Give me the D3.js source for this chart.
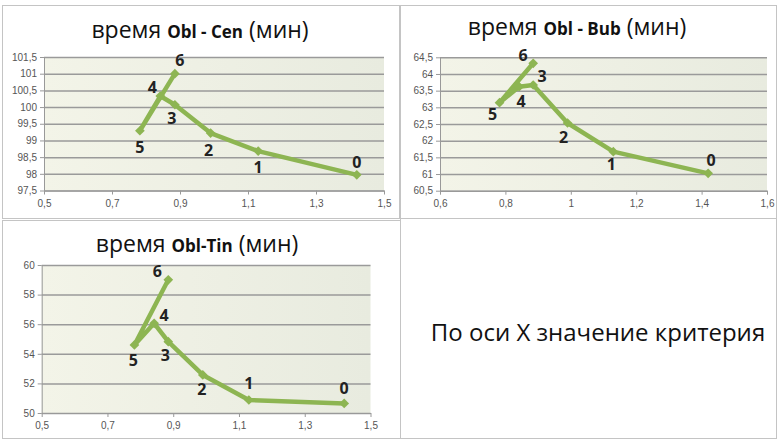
<!DOCTYPE html>
<html>
<head>
<meta charset="utf-8">
<script src="https://cdn.jsdelivr.net/npm/d3@7/dist/d3.min.js"></script>
<style>
  html, body { margin: 0; padding: 0; background: #fff; }
  svg { display: block; }
</style>
</head>
<body>
<svg id="chart" width="778" height="439"></svg>
<script>
// Criterion value (X) for the seven runs, labelled 0..6
const pointLabels = ["0", "1", "2", "3", "4", "5", "6"];
const criterion = [1.42, 1.13, 0.99, 0.885, 0.842, 0.782, 0.885];

// Travel times, minutes
const timeCen = [97.97, 98.68, 99.22, 100.07, 100.33, 99.29, 101.0];
const timeBub = [61.02, 61.67, 62.53, 63.67, 63.62, 63.14, 64.32];
const timeTin = [50.65, 50.88, 52.57, 54.82, 56.06, 54.6, 59.0];

// Axis ticks
const xTicksCen = [0.5, 0.7, 0.9, 1.1, 1.3, 1.5];
const yTicksCen = [97.5, 98, 98.5, 99, 99.5, 100, 100.5, 101, 101.5];
const xTicksBub = [0.6, 0.8, 1.0, 1.2, 1.4, 1.6];
const yTicksBub = [60.5, 61, 61.5, 62, 62.5, 63, 63.5, 64, 64.5];
const xTicksTin = [0.5, 0.7, 0.9, 1.1, 1.3, 1.5];
const yTicksTin = [50, 52, 54, 56, 58, 60];

const noteText = "По оси X значение критерия";

const svg = d3.select("#chart");
const green = "#8db552";
const fmt = v => String(+v.toFixed(2)).replace(".", ",");

// gradient fill of the plot areas
const defs = svg.append("defs");
const grad = defs.append("linearGradient").attr("id", "plotBg")
  .attr("x1", "0").attr("x2", "1").attr("y1", "0").attr("y2", "0");
grad.append("stop").attr("offset", "0").attr("stop-color", "#f3f4e8");
grad.append("stop").attr("offset", "1").attr("stop-color", "#e8ebdf");

// frames
const frames = [
  [2, 5, 397, 213],
  [400, 5, 376, 213],
  [2, 220, 398, 218],
  [400, 218, 376, 220]
];
svg.selectAll("rect.frame").data(frames).join("rect")
  .attr("class", "frame")
  .attr("x", d => d[0] + 0.5).attr("y", d => d[1] + 0.5)
  .attr("width", d => d[2]).attr("height", d => d[3])
  .attr("fill", "#fff").attr("stroke", "#c4c4c4").attr("stroke-width", 1);

// label placement (dx, dy from the marker) for each panel
const panels = [
  {
    name: "Obl - Cen", values: timeCen, xTicks: xTicksCen, yTicks: yTicksCen,
    box: { left: 44, right: 384, top: 57, bottom: 190.5 },
    titleX: 200, titleY: 38,
    offs: [[0, -13], [0, 16], [-2, 17], [-3, 14], [-8, -9], [0, 16], [5, -13]]
  },
  {
    name: "Obl - Bub", values: timeBub, xTicks: xTicksBub, yTicks: yTicksBub,
    box: { left: 440, right: 767, top: 57.3, bottom: 190.7 },
    titleX: 577, titleY: 35,
    offs: [[3, -13], [-2, 13], [-4, 14], [9, -9], [2, 15], [-7, 12], [-10, -8]]
  },
  {
    name: "Obl-Tin", values: timeTin, xTicks: xTicksTin, yTicks: yTicksTin,
    box: { left: 41.7, right: 370.5, top: 265, bottom: 413 },
    titleX: 197, titleY: 252,
    offs: [[0, -15], [0, -17], [-1, 14], [-3, 14], [10, -8], [-1, 15], [-11, -9]]
  }
];

panels.forEach(p => {
  const b = p.box;
  const x = d3.scaleLinear().domain(d3.extent(p.xTicks)).range([b.left, b.right]);
  const y = d3.scaleLinear().domain(d3.extent(p.yTicks)).range([b.bottom, b.top]);
  const g = svg.append("g");

  // title
  const t = g.append("text")
    .attr("x", p.titleX).attr("y", p.titleY)
    .attr("text-anchor", "middle")
    .attr("font-family", "'Open Sans', sans-serif")
    .attr("fill", "#111");
  t.append("tspan").attr("font-size", 23).text("время ");
  t.append("tspan").attr("font-size", 17).attr("font-weight", "bold").text(p.name);
  t.append("tspan").attr("font-size", 23).text(" (мин)");

  // plot area
  g.append("rect")
    .attr("x", b.left).attr("y", b.top)
    .attr("width", b.right - b.left).attr("height", b.bottom - b.top)
    .attr("fill", "url(#plotBg)");

  // horizontal gridlines
  g.append("g")
    .attr("transform", `translate(${b.left},0)`)
    .call(d3.axisLeft(y).tickValues(p.yTicks).tickSize(-(b.right - b.left)).tickFormat(""))
    .call(s => s.select(".domain").remove())
    .call(s => s.selectAll("line").attr("stroke", "#9a9a9a").attr("stroke-width", 1.5));

  // y axis
  const ya = g.append("g")
    .attr("transform", `translate(${b.left},0)`)
    .call(d3.axisLeft(y).tickValues(p.yTicks).tickSize(4).tickSizeOuter(0).tickPadding(3).tickFormat(fmt));
  ya.select(".domain").attr("stroke", "#999");
  ya.selectAll("line").attr("stroke", "#999");
  ya.selectAll("text").attr("fill", "#555").attr("font-size", 10)
    .attr("font-family", "'Liberation Sans', Arial, sans-serif");

  // x axis
  const xa = g.append("g")
    .attr("transform", `translate(0,${b.bottom})`)
    .call(d3.axisBottom(x).tickValues(p.xTicks).tickSize(4).tickSizeOuter(0).tickPadding(5).tickFormat(fmt));
  xa.select(".domain").attr("stroke", "#999");
  xa.selectAll("line").attr("stroke", "#999");
  xa.selectAll("text").attr("fill", "#555").attr("font-size", 10)
    .attr("font-family", "'Liberation Sans', Arial, sans-serif");

  const pts = criterion.map((c, i) => ({ c, v: p.values[i], lab: pointLabels[i], off: p.offs[i] }));

  // series line
  g.append("path")
    .datum(pts)
    .attr("fill", "none")
    .attr("stroke", green)
    .attr("stroke-width", 4.5)
    .attr("stroke-linejoin", "round")
    .attr("d", d3.line().x(d => x(d.c)).y(d => y(d.v)));

  // diamond markers
  g.selectAll("path.mk").data(pts).join("path")
    .attr("class", "mk")
    .attr("d", d3.symbol().type(d3.symbolDiamond2).size(60))
    .attr("transform", d => `translate(${x(d.c)},${y(d.v)})`)
    .attr("fill", green);

  // point labels
  g.selectAll("text.pl").data(pts).join("text")
    .attr("class", "pl")
    .attr("x", d => x(d.c) + d.off[0])
    .attr("y", d => y(d.v) + d.off[1])
    .attr("dy", "0.36em")
    .attr("text-anchor", "middle")
    .attr("font-family", "'Open Sans', sans-serif")
    .attr("font-weight", "bold")
    .attr("font-size", 16)
    .attr("fill", "#222")
    .text(d => d.lab);
});

// explanatory note in the fourth cell
svg.append("text")
  .attr("x", 598).attr("y", 333)
  .attr("dy", "0.35em")
  .attr("text-anchor", "middle")
  .attr("font-family", "'Open Sans', sans-serif")
  .attr("font-size", 24)
  .attr("fill", "#111")
  .text(noteText);
</script>
</body>
</html>
